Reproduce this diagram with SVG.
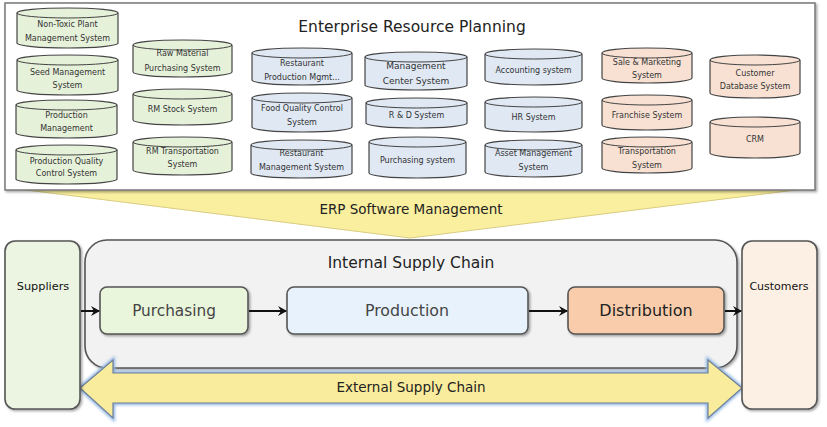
<svg xmlns="http://www.w3.org/2000/svg" width="827" height="427" viewBox="0 0 827 427">
<defs>
<style>
.t{font-family:"DejaVu Sans","Liberation Sans",sans-serif;text-anchor:middle;}
.c{font-size:8px;fill:#333;}
.g path.b{fill:#e6f1da;stroke:#444;stroke-width:1.2;}
.bl path.b{fill:#dfe8f3;stroke:#444;stroke-width:1.2;}
.s path.b{fill:#f8e1d3;stroke:#444;stroke-width:1.2;}
path.f{fill:none;stroke:#444;stroke-width:1;}
.box{stroke:#555;stroke-width:1.6;filter:url(#sh);}
.conn line{stroke:#111;stroke-width:2;marker-end:url(#ah);}
</style>
<filter id="sh" x="-10%" y="-10%" width="130%" height="130%">
<feDropShadow dx="1.5" dy="1.5" stdDeviation="1.2" flood-color="#000" flood-opacity="0.35"/>
</filter>
<filter id="glow" x="-5%" y="-20%" width="110%" height="140%">
<feGaussianBlur stdDeviation="1.5"/>
</filter>
<marker id="ah" markerWidth="10" markerHeight="10" refX="8" refY="5" orient="auto" markerUnits="userSpaceOnUse">
<path d="M0,0 L9,5 L0,10 L3,5 Z" fill="#111"/>
</marker>
</defs>
<rect width="827" height="427" fill="#fff"/>

<!-- ERP funnel -->
<g id="erp-funnel">
<polygon points="18,189 804,189 410,238" fill="#faef9f" stroke="#d8cc80" stroke-width="1"/>
<text class="t" x="411" y="214" font-size="13.5" fill="#222">ERP Software Management</text>
</g>

<!-- ERP container -->
<g id="erp">
<rect x="5" y="3" width="810" height="187" fill="#fff" stroke="#777" stroke-width="1.5" filter="url(#sh)"/>
<text class="t" x="412" y="32" font-size="15.5" fill="#222">Enterprise Resource Planning</text>
</g>

<!-- Column 1 green -->
<g id="cyl-nontoxic" class="g">
<path class="b" d="M17,13 A50.5,5 0 0 1 118,13 V43 A50.5,5 0 0 1 17,43 Z"/><path class="f" d="M17,13 A50.5,5 0 0 0 118,13"/>
<text class="t c" x="67.5" y="27">Non-Toxic Plant</text><text class="t c" x="67.5" y="41">Management System</text>
</g>
<g id="cyl-seed" class="g">
<path class="b" d="M17,60 A50.5,5 0 0 1 118,60 V90 A50.5,5 0 0 1 17,90 Z"/><path class="f" d="M17,60 A50.5,5 0 0 0 118,60"/>
<text class="t c" x="67.5" y="75">Seed Management</text><text class="t c" x="67.5" y="88">System</text>
</g>
<g id="cyl-prodmgmt" class="g">
<path class="b" d="M16,105 A50.5,5 0 0 1 117,105 V133 A50.5,5 0 0 1 16,133 Z"/><path class="f" d="M16,105 A50.5,5 0 0 0 117,105"/>
<text class="t c" x="66.5" y="118">Production</text><text class="t c" x="66.5" y="131">Management</text>
</g>
<g id="cyl-pqc" class="g">
<path class="b" d="M16,150 A50.5,5 0 0 1 117,150 V179 A50.5,5 0 0 1 16,179 Z"/><path class="f" d="M16,150 A50.5,5 0 0 0 117,150"/>
<text class="t c" x="66.5" y="164">Production Quality</text><text class="t c" x="66.5" y="176">Control System</text>
</g>

<!-- Column 2 green -->
<g id="cyl-rawmat" class="g">
<path class="b" d="M133,45 A49.5,5 0 0 1 232,45 V72 A49.5,5 0 0 1 133,72 Z"/><path class="f" d="M133,45 A49.5,5 0 0 0 232,45"/>
<text class="t c" x="182.5" y="56">Raw Material</text><text class="t c" x="182.5" y="71">Purchasing System</text>
</g>
<g id="cyl-rmstock" class="g">
<path class="b" d="M133,94 A49.5,5 0 0 1 232,94 V120 A49.5,5 0 0 1 133,120 Z"/><path class="f" d="M133,94 A49.5,5 0 0 0 232,94"/>
<text class="t c" x="182.5" y="112">RM Stock System</text>
</g>
<g id="cyl-rmtrans" class="g">
<path class="b" d="M133,142 A49.5,5 0 0 1 232,142 V170 A49.5,5 0 0 1 133,170 Z"/><path class="f" d="M133,142 A49.5,5 0 0 0 232,142"/>
<text class="t c" x="182.5" y="154">RM Transportation</text><text class="t c" x="182.5" y="167">System</text>
</g>

<!-- Column 3 blue -->
<g id="cyl-restprod" class="bl">
<path class="b" d="M252,53 A50,5 0 0 1 352,53 V80 A50,5 0 0 1 252,80 Z"/><path class="f" d="M252,53 A50,5 0 0 0 352,53"/>
<text class="t c" x="302" y="66">Restaurant</text><text class="t c" x="302" y="80">Production Mgmt...</text>
</g>
<g id="cyl-foodqc" class="bl">
<path class="b" d="M252,98 A50,5 0 0 1 352,98 V127 A50,5 0 0 1 252,127 Z"/><path class="f" d="M252,98 A50,5 0 0 0 352,98"/>
<text class="t c" x="302" y="111">Food Quality Control</text><text class="t c" x="302" y="125">System</text>
</g>
<g id="cyl-restmgmt" class="bl">
<path class="b" d="M251,145 A50.5,5 0 0 1 352,145 V173 A50.5,5 0 0 1 251,173 Z"/><path class="f" d="M251,145 A50.5,5 0 0 0 352,145"/>
<text class="t c" x="301.5" y="156">Restaurant</text><text class="t c" x="301.5" y="170">Management System</text>
</g>

<!-- Column 4 blue -->
<g id="cyl-mgmtcenter" class="bl">
<path class="b" d="M365,57 A51,5 0 0 1 467,57 V85 A51,5 0 0 1 365,85 Z"/><path class="f" d="M365,57 A51,5 0 0 0 467,57"/>
<text class="t" x="416" y="69" font-size="9" fill="#333">Management</text><text class="t" x="416" y="84" font-size="9" fill="#333">Center System</text>
</g>
<g id="cyl-rd" class="bl">
<path class="b" d="M366,103 A50.5,5 0 0 1 467,103 V123 A50.5,5 0 0 1 366,123 Z"/><path class="f" d="M366,103 A50.5,5 0 0 0 467,103"/>
<text class="t c" x="416.5" y="118">R &amp; D System</text>
</g>
<g id="cyl-purchsys" class="bl">
<path class="b" d="M369,142 A48.5,5 0 0 1 466,142 V173 A48.5,5 0 0 1 369,173 Z"/><path class="f" d="M369,142 A48.5,5 0 0 0 466,142"/>
<text class="t c" x="417.5" y="163">Purchasing system</text>
</g>

<!-- Column 5 blue -->
<g id="cyl-accounting" class="bl">
<path class="b" d="M485,54 A48.5,5 0 0 1 582,54 V80 A48.5,5 0 0 1 485,80 Z"/><path class="f" d="M485,54 A48.5,5 0 0 0 582,54"/>
<text class="t c" x="533.5" y="73">Accounting system</text>
</g>
<g id="cyl-hr" class="bl">
<path class="b" d="M485,102 A48.5,5 0 0 1 582,102 V127 A48.5,5 0 0 1 485,127 Z"/><path class="f" d="M485,102 A48.5,5 0 0 0 582,102"/>
<text class="t c" x="533.5" y="120">HR System</text>
</g>
<g id="cyl-asset" class="bl">
<path class="b" d="M485,145 A48.5,5 0 0 1 582,145 V172 A48.5,5 0 0 1 485,172 Z"/><path class="f" d="M485,145 A48.5,5 0 0 0 582,145"/>
<text class="t c" x="533.5" y="156">Asset Management</text><text class="t c" x="533.5" y="170">System</text>
</g>

<!-- Column 6 salmon -->
<g id="cyl-sale" class="s">
<path class="b" d="M602,53 A45,5 0 0 1 692,53 V78 A45,5 0 0 1 602,78 Z"/><path class="f" d="M602,53 A45,5 0 0 0 692,53"/>
<text class="t c" x="647" y="65">Sale &amp; Marketing</text><text class="t c" x="647" y="78">System</text>
</g>
<g id="cyl-franchise" class="s">
<path class="b" d="M602,100 A45,5 0 0 1 692,100 V125 A45,5 0 0 1 602,125 Z"/><path class="f" d="M602,100 A45,5 0 0 0 692,100"/>
<text class="t c" x="647" y="118">Franchise System</text>
</g>
<g id="cyl-transport" class="s">
<path class="b" d="M602,142 A45,5 0 0 1 692,142 V168 A45,5 0 0 1 602,168 Z"/><path class="f" d="M602,142 A45,5 0 0 0 692,142"/>
<text class="t c" x="647" y="154">Transportation</text><text class="t c" x="647" y="168">System</text>
</g>

<!-- Column 7 salmon -->
<g id="cyl-custdb" class="s">
<path class="b" d="M710,60 A45,5 0 0 1 800,60 V93 A45,5 0 0 1 710,93 Z"/><path class="f" d="M710,60 A45,5 0 0 0 800,60"/>
<text class="t c" x="755" y="76">Customer</text><text class="t c" x="755" y="89">Database System</text>
</g>
<g id="cyl-crm" class="s">
<path class="b" d="M710,122 A45,5 0 0 1 800,122 V153 A45,5 0 0 1 710,153 Z"/><path class="f" d="M710,122 A45,5 0 0 0 800,122"/>
<text class="t c" x="755" y="142">CRM</text>
</g>

<!-- Internal supply chain -->
<g id="internal">
<rect class="box" x="85" y="240" width="652" height="128" rx="22" fill="#f2f2f2"/>
<text class="t" x="411" y="268" font-size="15.5" fill="#222">Internal Supply Chain</text>
</g>

<!-- External supply chain arrow -->
<g id="external">
<polygon points="80,388 113,360 113,373 708,373 708,360 742,388 708,418 708,403 113,403 113,418" fill="none" stroke="#8fb5e3" stroke-width="4" filter="url(#glow)"/>
<polygon points="80,388 113,360 113,373 708,373 708,360 742,388 708,418 708,403 113,403 113,418" fill="#f9ec9c" stroke="#6d7f98" stroke-width="1.2"/>
<text class="t" x="411" y="392" font-size="13.5" fill="#222">External Supply Chain</text>
</g>

<g id="suppliers">
<rect class="box" x="5" y="241" width="75" height="168" rx="10" fill="#ebf5e1"/>
<text class="t" x="43" y="290" font-size="11.3" fill="#111">Suppliers</text>
</g>
<g id="customers">
<rect class="box" x="742" y="241" width="75" height="168" rx="10" fill="#fcf0e4"/>
<text class="t" x="779" y="290" font-size="11" fill="#111">Customers</text>
</g>

<g id="purchasing">
<rect class="box" x="100" y="287" width="148" height="47" rx="7" fill="#eaf6dc"/>
<text class="t" x="174" y="316" font-size="15.3" fill="#444">Purchasing</text>
</g>
<g id="production">
<rect class="box" x="287" y="287" width="241" height="47" rx="7" fill="#e7f2fc"/>
<text class="t" x="407" y="316" font-size="15.8" fill="#444">Production</text>
</g>
<g id="distribution">
<rect class="box" x="568" y="287" width="156" height="47" rx="7" fill="#f9cdab"/>
<text class="t" x="646" y="316" font-size="16" fill="#222">Distribution</text>
</g>

<g id="connectors" class="conn">
<line x1="81" y1="311" x2="99" y2="311"/>
<line x1="249" y1="311" x2="286" y2="311"/>
<line x1="529" y1="311" x2="567" y2="311"/>
<line x1="725" y1="311" x2="741" y2="311"/>
</g>
</svg>
